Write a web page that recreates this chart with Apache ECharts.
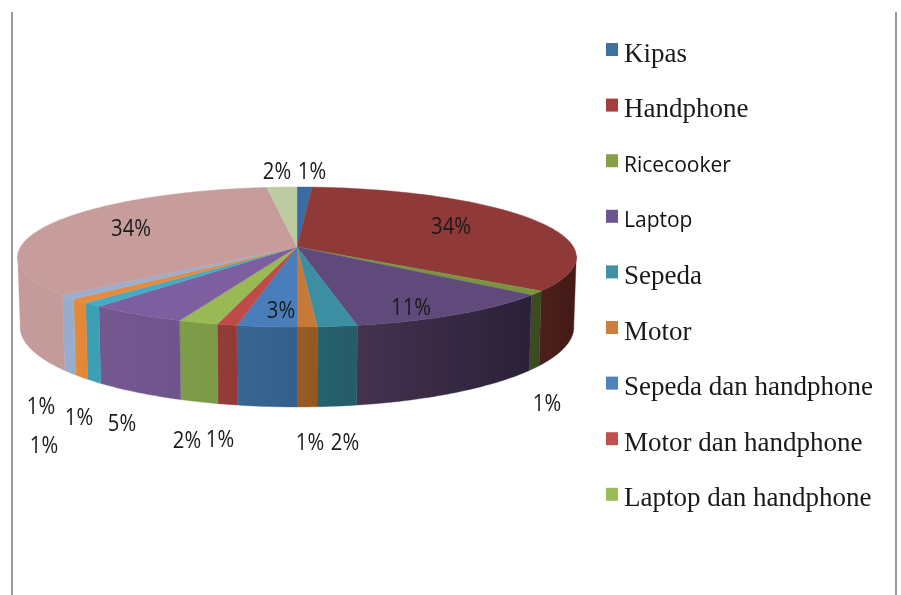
<!DOCTYPE html>
<html>
<head>
<meta charset="utf-8">
<style>html,body{margin:0;padding:0;background:#fff}#c{width:901px;height:595px}</style>
<script src="https://cdn.jsdelivr.net/npm/echarts@6/dist/echarts.min.js"></script>
</head>
<body>
<div id="c"></div>
<script>
// Data (percent of total, clockwise from 12 o'clock)
const categories = ['Kipas','Handphone','Ricecooker','Laptop','Sepeda','Motor',
  'Sepeda dan handphone','Motor dan handphone','Laptop dan handphone',
  'Lainnya 1','Lainnya 2','Lainnya 3','Lainnya 4','Lainnya 5','Lainnya 6'];
const values = [1,34,1,11,2,1,3,1,2,5,1,1,1,34,2];

// Styles
const legendCount = 9;
const serifNames = ['Kipas','Handphone','Sepeda','Motor','Sepeda dan handphone','Motor dan handphone','Laptop dan handphone'];
const legendColors = ['#40709f','#a33f3d','#86a044','#6e5490','#3f91a8','#cc7f3c','#4f81bd','#c0504d','#9bbb59',
  '#7d5fa0','#46aac5','#e58b3e','#95b3d7','#c79d9c','#bccba0'];
const topColors = ['#3a6ca3','#8f3a38','#7a9440','#604a7b','#3c8ea3','#c77a38','#4a7ebb','#be4b48','#98b954',
  '#7d5fa0','#46aac5','#e58b3e','#9aaecf','#c79d9c','#bccba0'];
const wallStart = ['#2c5278','#4d1f1c','#3c4d22','#45324f','#27626e','#9a5c24','#3a6694','#953c3a','#7f9c49',
  '#745891','#3ba0b6','#e58a3a','#97adce','#c49a9a','#a8b88e'];
const wallEnd = ['#2c5278','#431a16','#3a4a20','#2a2038','#255c68','#915820','#345f8c','#903a38','#7b9a46',
  '#6f548c','#3ba0b6','#e18637','#97adce','#c49b9b','#a8b88e'];
// label centre, relative to the pie centre
const labelOffsets = [[15,-75],[154,-20],[250,157],[114,61],[48,196],[13,196],[-16,64],[-77,193],[-110,194],
  [-175,177],[-218,171],[-253,199],[-256,160],[-166,-18],[-20,-75]];

// Projection of the pie
const cx = 297, cy = 247, a = 276.5, b = 68.6, k = 0.143, h = 68.5, shrink = 0.991;
const visibleFrom = 97, visibleTo = 263;
const total = values.reduce((s, v) => s + v, 0);
const cum = []; values.reduce((s, v, i) => (cum[i] = s, s + v), 0);

function project(deg, bottom) {
  const t = deg * Math.PI / 180, u = Math.sin(t), v = Math.cos(t), w = 1 + k * v;
  return bottom
    ? [cx + a * u * shrink / w, cy + (h - b * v) / w]
    : [cx + a * u / w, cy - b * v / w];
}
function arc(from, to, bottom) {
  const n = Math.max(2, Math.ceil(Math.abs(to - from))), out = [];
  for (let j = 0; j <= n; j++) out.push(project(from + (to - from) * j / n, bottom));
  return out;
}
function renderSlice(i) {
  return function (params, api) {
    const val = api.value(0);
    const start = cum[i] / total * 360, end = start + val / total * 360;
    const children = [];
    const f = Math.max(start, visibleFrom), t = Math.min(end, visibleTo);
    if (t > f) {
      const fillWall = new echarts.graphic.LinearGradient(0, 0, 1, 0,
        [{ offset: 0, color: wallStart[i] }, { offset: 1, color: wallEnd[i] }]);
      children.push({
        type: 'polygon', z2: 1,
        shape: { points: arc(f, t, false).concat(arc(t, f, true)) },
        style: { fill: fillWall, stroke: wallStart[i], lineWidth: 0.4 }
      });
    }
    children.push({
      type: 'polygon', z2: 5,
      shape: { points: [[cx, cy]].concat(arc(start, end, false)) },
      style: { fill: topColors[i], stroke: topColors[i], lineWidth: 0.4 }
    });
    children.push({
      type: 'text', z2: 10,
      x: cx + labelOffsets[i][0], y: cy + labelOffsets[i][1], scaleX: 0.88,
      style: {
        text: val + '%', x: 0, y: 0,
        align: 'center', verticalAlign: 'middle',
        font: '23px "Open Sans",sans-serif', fill: '#1a1a1a'
      }
    });
    return { type: 'group', children };
  };
}

const chart = echarts.init(document.getElementById('c'), null, { renderer: 'canvas' });
chart.setOption({
  animation: false,
  backgroundColor: '#ffffff',
  tooltip: { show: false },
  legend: {
    show: true, orient: 'vertical', left: 601, top: 24.5,
    selectedMode: false, itemWidth: 12, itemHeight: 13, itemGap: 15.6,
    data: categories.slice(0, legendCount).map((name, i) => ({ name, icon: 'rect', itemStyle: { color: legendColors[i] } })),
    formatter: n => (serifNames.includes(n) ? '{s|' : '{c|') + n + '}',
    textStyle: {
      rich: {
        s: { fontFamily: '"Liberation Serif"', fontSize: 27, height: 30, lineHeight: 30, color: '#1a1a1a', padding: [10,0,0,1] },
        c: { fontFamily: '"Open Sans"', fontSize: 21, height: 30, lineHeight: 30, color: '#111111', padding: [10,0,0,1] }
      }
    }
  },
  graphic: [
    { type: 'line', shape: { x1: 12, y1: 12, x2: 12, y2: 595 }, style: { stroke: '#9a9a9a', lineWidth: 2 } },
    { type: 'line', shape: { x1: 896, y1: 12, x2: 896, y2: 595 }, style: { stroke: '#9a9a9a', lineWidth: 2 } }
  ],
  series: values.map((v, i) => ({
    type: 'custom', name: categories[i], coordinateSystem: 'none', silent: true, clip: false,
    itemStyle: { color: legendColors[i] },
    data: [[v]], renderItem: renderSlice(i)
  }))
});
</script>
</body>
</html>
